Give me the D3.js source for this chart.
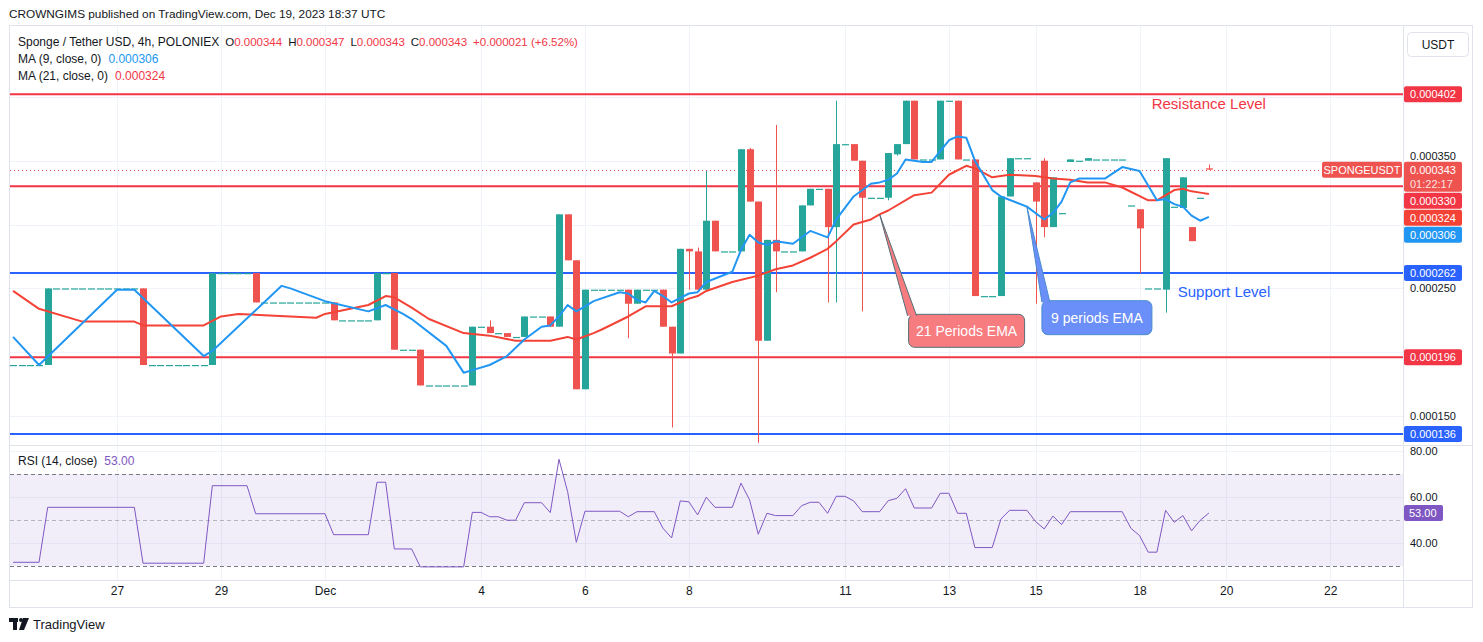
<!DOCTYPE html>
<html>
<head>
<meta charset="utf-8">
<script src="https://cdn.jsdelivr.net/npm/d3@7"></script>
<style>
  html, body { margin: 0; padding: 0; background: #ffffff; }
  svg { display: block; font-family: "Liberation Sans", Arial, sans-serif; }
</style>
</head>
<body>
<svg id="chart"></svg>
<script>
// prices in millionths of USDT (343 -> 0.000343), 4h bars
// bar index 0 = Dec 4 00:00, first visible bar is -54
const barStart = -54;

// [open, high, low, close]
const candles = [
  [190,190,190,190],[190,190,190,190],[190,190,190,190],[190,190,190,190], // -54..-51
  [190,250,190,250],                                                       // -50
  [250,250,250,250],[250,250,250,250],[250,250,250,250],[250,250,250,250],[250,250,250,250],
  [250,250,250,250],[250,250,250,250],[250,250,250,250],[250,250,250,250],[250,250,250,250], // -49..-40
  [250,250,190,190],                                                       // -39
  [190,190,190,190],[190,190,190,190],[190,190,190,190],[190,190,190,190],
  [190,190,190,190],[190,190,190,190],[190,190,190,190],                   // -38..-32
  [190,262,190,262],                                                       // -31
  [262,262,262,262],[262,262,262,262],[262,262,262,262],[262,262,262,262], // -30..-27
  [262,262,239,239],                                                       // -26
  [239,239,239,239],[239,239,239,239],[239,239,239,239],[239,239,239,239],
  [239,239,239,239],[239,239,239,239],[239,239,239,239],[239,239,239,239], // -25..-18
  [239,239,225,225],                                                       // -17
  [225,225,225,225],[225,225,225,225],[225,225,225,225],[225,225,225,225], // -16..-13
  [225,262,225,262],                                                       // -12
  [262,262,262,262],                                                       // -11
  [262,262,202,202],                                                       // -10
  [202,202,202,202],[202,202,202,202],                                     // -9,-8
  [202,202,174,174],                                                       // -7
  [174,174,174,174],[174,174,174,174],[174,174,174,174],[174,174,174,174],[174,174,174,174], // -6..-2
  [174,220,174,220],                                                       // -1
  [220,220,220,220],                                                       // 0
  [220,225,215,215],                                                       // 1
  [215,215,215,215],                                                       // 2
  [215,215,212,212],                                                       // 3
  [212,212,212,212],                                                       // 4
  [212,228,212,228],                                                       // 5
  [228,228,228,228],[228,228,228,228],                                     // 6,7
  [228,228,220,220],                                                       // 8
  [220,308,220,308],                                                       // 9
  [308,308,272,272],                                                       // 10
  [272,272,171,171],                                                       // 11
  [171,249,171,249],                                                       // 12
  [249,249,249,249],[249,249,249,249],[249,249,249,249],[249,249,249,249], // 13..16
  [249,249,211,238],                                                       // 17
  [238,249,238,249],                                                       // 18
  [249,249,249,249],[249,249,249,249],                                     // 19,20
  [249,249,220,220],                                                       // 21
  [220,220,141,199],                                                       // 22
  [199,281,199,281],                                                       // 23
  [281,281,249,279],                                                       // 24
  [279,282,249,249],                                                       // 25
  [249,342,249,303],                                                       // 26
  [303,303,279,279],                                                       // 27
  [279,279,279,279],[279,279,279,279],                                     // 28,29
  [279,359,279,359],                                                       // 30
  [359,360,318,318],                                                       // 31
  [318,318,129,209],                                                       // 32
  [209,288,209,288],                                                       // 33
  [288,378,247,279],                                                       // 34
  [279,279,279,279],[279,279,279,279],                                     // 35,36
  [279,315,279,315],                                                       // 37
  [315,328,315,328],                                                       // 38
  [328,328,328,328],                                                       // 39
  [328,328,239,298],                                                       // 40
  [298,397,239,363],                                                       // 41
  [363,363,363,363],                                                       // 42
  [363,363,350,350],                                                       // 43
  [350,350,232,321],                                                       // 44
  [321,321,321,321],[321,321,321,321],                                     // 45,46
  [321,356,319,356],                                                       // 47
  [355,363,354,363],                                                       // 48
  [363,397,363,397],                                                       // 49
  [397,397,351,351],                                                       // 50
  [351,351,351,351],[351,351,351,351],                                     // 51,52
  [351,397,351,397],                                                       // 53
  [397,397,397,397],                                                       // 54
  [397,397,351,351],                                                       // 55
  [351,351,351,351],                                                       // 56
  [351,351,244,244],                                                       // 57
  [244,244,244,244],[244,244,244,244],                                     // 58,59
  [244,322,244,322],                                                       // 60
  [322,352,322,352],                                                       // 61
  [352,352,352,352],[352,352,352,352],                                     // 62,63
  [333,333,238,318],                                                       // 64
  [350,352,290,298],                                                       // 65
  [298,337,298,337],                                                       // 66
  [309,309,309,309],                                                       // 67
  [349,351,349,351],                                                       // 68
  [350,350,350,350],                                                       // 69
  [350,352,350,352],                                                       // 70
  [351,351,351,351],[351,351,351,351],[351,351,351,351],[351,351,351,351], // 71..74
  [315,315,315,315],                                                       // 75
  [312,312,262,297],                                                       // 76
  [250,250,250,250],[250,250,250,250],                                     // 77,78
  [249,352,231,352],                                                       // 79
  [314,314,314,314],                                                       // 80
  [313,337,313,337],                                                       // 81
  [298,298,287,287],                                                       // 82
  [321,321,321,321],                                                       // 83
  [344,347,343,343]                                                        // 84
];

// moving averages: [bar, value]
const ma9 = [
  [-54,212],[-51,190],[-42,249],[-40,249],[-32,197],[-31,201],[-23,252],[-22,250],[-18,240],
  [-13,232],[-11,237],[-9,230],[-8,226],[-4,205],[-2,184],[-1,186],[1,190],[3,197],[5,210],
  [7,220],[8,221],[9,228],[10,237],[11,232],[12,236],[13,240],[16,247],[17,246],[18,241],
  [19,239],[20,248],[21,244],[22,239],[24,246],[25,247],[26,255],[29,263],[30,280],[31,292],
  [32,286],[33,284],[34,287],[35,286],[36,285],[38,295],[40,290],[41,304],[43,322],[45,332],
  [46,333],[47,335],[48,340],[49,351],[51,349],[52,349],[54,366],[55,369],[56,368],[57,350],
  [59,327],[60,322],[63,314],[65,304],[66,309],[67,318],[68,333],[69,336],[72,336],[74,345],
  [76,342],[78,319],[79,320],[80,316],[81,314],[82,307],[83,303],[84,306]
];
const ma21 = [
  [-54,248],[-51,234],[-46,224],[-40,224],[-39,221],[-32,221],[-30,228],[-28,230],[-25,229],
  [-22,228],[-19,227],[-18,230],[-13,237],[-11,244],[-10,243],[-8,235],[-6,226],[-2,215],
  [1,213],[4,209],[8,209],[10,212],[11,210],[13,215],[14,218],[17,228],[19,236],[22,236],
  [24,242],[25,244],[26,248],[29,255],[32,260],[34,265],[36,268],[38,274],[40,281],[41,287],
  [43,300],[45,304],[46,308],[47,311],[50,323],[52,325],[54,339],[56,346],[57,344],[59,337],
  [60,338],[61,339],[64,338],[66,336],[68,335],[70,333],[72,333],[74,329],[77,319],[78,319],
  [80,327],[81,328],[82,326],[83,325],[84,324]
];

// RSI(14): [bar, value]
const rsi = [
  [-54,31.6],[-51,31.6],[-50,55.5],[-40,55.5],[-39,31.2],[-32,31.2],[-31,64.9],[-27,64.9],
  [-26,52.7],[-18,52.7],[-17,43.6],[-13,43.6],[-12,66.4],[-11,66.4],[-10,37.4],[-8,37.4],
  [-7,29.6],[-2,29.6],[-1,53.3],[0,53.3],[1,51.4],[2,51.4],[3,49.9],[4,49.9],[5,57.5],
  [7,57.5],[8,53.2],[9,76.4],[10,62.3],[11,40.3],[12,53.8],[16,53.8],[17,51.4],[18,53.6],
  [20,53.6],[21,46.4],[22,42.2],[23,58.3],[24,57.9],[25,52.2],[26,59.9],[27,55.5],[29,55.5],
  [30,66],[31,58.7],[32,43.8],[33,52.9],[34,51.9],[36,51.9],[37,56.2],[38,57.7],[39,57.7],
  [40,52.9],[41,60.3],[42,60.3],[43,58.3],[44,53.6],[46,53.6],[47,58.4],[48,59.4],[49,63.6],
  [50,55.2],[52,55.2],[53,61.6],[54,61.6],[55,52.9],[56,52.9],[57,38],[59,38],[60,50.4],
  [61,54.2],[63,54.2],[64,49.3],[65,46.1],[66,51.7],[67,48],[68,53.6],[74,53.6],[75,46.4],
  [76,43.2],[77,36],[78,36],[79,54.2],[80,49],[81,51.9],[82,45.3],[83,49.9],[84,53]
];

const resistanceLevels = [402, 330, 196];
const supportLevels = [262, 136];
const priceTicks = [150, 200, 250, 300, 350, 400];
const rsiTicks = [40, 60, 80];
const rsiBands = [70, 50, 30];
const dateTicks = [
  ['27', -42], ['29', -30], ['Dec', -18], ['4', 0], ['6', 12], ['8', 24],
  ['11', 42], ['13', 54], ['15', 64], ['18', 76], ['20', 86], ['22', 98]
];
const lastChange = { abs: 21, pct: 6.52 };
const countdown = '01:22:17';

const callouts = [
  { text: '21 Periods EMA', k: 46, series: ma21 },
  { text: '9 periods EMA', k: 63, series: ma9 }
];

// ---------------------------------------------------------------
const W = 1483, H = 642;
const left = 10, right = 1403;
const mainTop = 26, mainBottom = 445, rsiBottom = 580;
const UP = '#26a69a', DOWN = '#ef5350';
const RED = '#f23645', BLUE = '#2962ff';
const MA9C = '#2196f3', MA21C = '#f44336', RSIC = '#7e57c2';
const TXT = '#131722', GRID = '#f0f3fa', BORDER = '#e0e3eb';

const fmt = v => (v / 1e6).toFixed(6);

const bars = candles.map((c, i) => ({ k: barStart + i, o: c[0], h: c[1], l: c[2], c: c[3] }));

const svg = d3.select('#chart').attr('width', W).attr('height', H);

const x = d3.scaleLinear().domain([-54.35, 106.4]).range([left, right]);
const y = d3.scaleLinear().domain([127.35, 455.5]).range([mainBottom, mainTop]);
const ry = d3.scaleLinear().domain([23.9, 82.6]).range([rsiBottom, mainBottom]);

svg.append('defs').append('clipPath').attr('id', 'mainClip')
  .append('rect').attr('x', left).attr('y', mainTop).attr('width', right - left).attr('height', mainBottom - mainTop);
svg.select('defs').append('clipPath').attr('id', 'rsiClip')
  .append('rect').attr('x', left).attr('y', mainBottom).attr('width', right - left).attr('height', rsiBottom - mainBottom);

// header
svg.append('text').attr('x', 9).attr('y', 18).attr('font-size', 11.8).attr('fill', TXT)
  .text('CROWNGIMS published on TradingView.com, Dec 19, 2023 18:37 UTC');

// grid
const grid = svg.append('g');
grid.selectAll('line.v').data(dateTicks).join('line')
  .attr('x1', d => Math.round(x(d[1])) + 0.5).attr('x2', d => Math.round(x(d[1])) + 0.5)
  .attr('y1', mainTop).attr('y2', rsiBottom).attr('stroke', GRID);
grid.selectAll('line.h').data(priceTicks).join('line')
  .attr('x1', left).attr('x2', right)
  .attr('y1', d => Math.round(y(d)) + 0.5).attr('y2', d => Math.round(y(d)) + 0.5).attr('stroke', GRID);
grid.selectAll('line.r').data(rsiTicks).join('line')
  .attr('x1', left).attr('x2', right)
  .attr('y1', d => Math.round(ry(d)) + 0.5).attr('y2', d => Math.round(ry(d)) + 0.5).attr('stroke', GRID);

// frame
svg.append('rect').attr('x', 9.5).attr('y', 25.5).attr('width', 1463).attr('height', 582)
  .attr('fill', 'none').attr('stroke', BORDER);
svg.append('line').attr('x1', right + 0.5).attr('x2', right + 0.5).attr('y1', 26).attr('y2', 607).attr('stroke', BORDER);
svg.append('line').attr('x1', 10).attr('x2', 1472).attr('y1', mainBottom + 0.5).attr('y2', mainBottom + 0.5).attr('stroke', BORDER);
svg.append('line').attr('x1', 10).attr('x2', 1472).attr('y1', rsiBottom + 0.5).attr('y2', rsiBottom + 0.5).attr('stroke', BORDER);

// main pane
const main = svg.append('g').attr('clip-path', 'url(#mainClip)');

main.selectAll('line.res').data(resistanceLevels).join('line')
  .attr('x1', left).attr('x2', right).attr('y1', d => y(d)).attr('y2', d => y(d))
  .attr('stroke', RED).attr('stroke-width', 2);
main.selectAll('line.sup').data(supportLevels).join('line')
  .attr('x1', left).attr('x2', right).attr('y1', d => y(d)).attr('y2', d => y(d))
  .attr('stroke', BLUE).attr('stroke-width', 2);

const last = bars[bars.length - 1];
main.append('line')
  .attr('x1', left).attr('x2', 1322)
  .attr('y1', Math.round(y(last.c)) + 0.5).attr('y2', Math.round(y(last.c)) + 0.5)
  .attr('stroke', DOWN).attr('stroke-dasharray', '1,3');

const col = d => (d.c < d.o ? DOWN : UP);
const bw = 7;

main.selectAll('line.wick').data(bars.filter(d => d.h > d.l)).join('line')
  .attr('x1', d => Math.round(x(d.k)) + 0.5).attr('x2', d => Math.round(x(d.k)) + 0.5)
  .attr('y1', d => y(d.h)).attr('y2', d => y(d.l))
  .attr('stroke', col).attr('stroke-width', 1);

main.selectAll('rect.body').data(bars).join('rect')
  .attr('x', d => Math.round(x(d.k)) + 0.5 - bw / 2)
  .attr('width', bw)
  .attr('y', d => y(Math.max(d.o, d.c)))
  .attr('height', d => Math.max(1.2, y(Math.min(d.o, d.c)) - y(Math.max(d.o, d.c))))
  .attr('fill', col);

const line = d3.line().x(d => x(d[0])).y(d => y(d[1]));
main.append('path').datum(ma21).attr('d', line).attr('fill', 'none')
  .attr('stroke', MA21C).attr('stroke-width', 2).attr('stroke-linejoin', 'round');
main.append('path').datum(ma9).attr('d', line).attr('fill', 'none')
  .attr('stroke', MA9C).attr('stroke-width', 2).attr('stroke-linejoin', 'round');

// text annotations
main.append('text').attr('x', x(77.4)).attr('y', y(resistanceLevels[0]) + 15)
  .attr('font-size', 15).attr('fill', RED).text('Resistance Level');
main.append('text').attr('x', x(80.4)).attr('y', y(supportLevels[0]) + 24)
  .attr('font-size', 15).attr('fill', BLUE).text('Support Level');

// callouts
const calloutStyle = [
  { box: [29, 100, 116, 33], base: [28, 37], fill: '#f77c80', stroke: '#55707a' },
  { box: [15, 94, 110, 34], base: [15, 23], fill: '#6b8ff8', stroke: '#4a8bd0' }
];
callouts.forEach((c, i) => {
  const s = calloutStyle[i];
  const tx = x(c.k), ty = y(c.series.find(p => p[0] === c.k)[1]);
  const [bx, by, bwid, bh] = s.box;
  const g = main.append('g');
  g.append('rect').attr('x', tx + bx).attr('y', ty + by).attr('width', bwid).attr('height', bh)
    .attr('rx', 6).attr('fill', s.fill).attr('stroke', s.stroke);
  g.append('path')
    .attr('d', `M${tx + s.base[0]},${ty + by + 1.5}L${tx},${ty}L${tx + s.base[1]},${ty + by + 1.5}`)
    .attr('fill', s.fill).attr('stroke', s.stroke);
  g.append('text').attr('x', tx + bx + bwid / 2).attr('y', ty + by + bh / 2 + 5)
    .attr('text-anchor', 'middle').attr('font-size', 14).attr('fill', '#ffffff').text(c.text);
});

// price tags, stacked like the platform does
const tags = [
  ...resistanceLevels.map(v => ({ v, color: RED })),
  ...supportLevels.map(v => ({ v, color: BLUE })),
  { v: last.c, color: DOWN, extra: countdown },
  { v: ma21[ma21.length - 1][1], color: MA21C },
  { v: ma9[ma9.length - 1][1], color: MA9C }
].sort((a, b) => b.v - a.v);
let prevBottom = -Infinity;
tags.forEach(t => {
  t.h = t.extra ? 30 : 16;
  t.top = Math.max(y(t.v) - 8, prevBottom + 1);
  prevBottom = t.top + t.h;
});

// price axis: tick labels that sit under a tag are covered on the platform, skip them;
// a label just above a tag is lifted so it clears the tag
const visibleTicks = priceTicks.filter(v => !tags.some(t => y(v) > t.top && y(v) < t.top + t.h));
const pAxis = svg.append('g').attr('transform', `translate(${right},0)`)
  .call(d3.axisRight(y).tickValues(visibleTicks).tickSize(0).tickPadding(7).tickFormat(fmt));
pAxis.select('.domain').remove();
pAxis.selectAll('text').attr('font-size', 11).attr('fill', TXT).attr('font-family', null)
  .attr('y', v => {
    const near = tags.find(t => t.top - y(v) >= 0 && t.top - y(v) < 7);
    return near ? near.top - 6 - y(v) : 0;
  });

const tagG = svg.append('g');
tags.forEach(t => {
  tagG.append('rect').attr('x', right + 1).attr('y', t.top).attr('width', 58).attr('height', t.h)
    .attr('rx', 2).attr('fill', t.color);
  tagG.append('text').attr('x', right + 7).attr('y', t.top + 12).attr('font-size', 11)
    .attr('fill', '#ffffff').text(fmt(t.v));
  if (t.extra) {
    tagG.append('text').attr('x', right + 7).attr('y', t.top + 26).attr('font-size', 11)
      .attr('fill', '#ffffff').attr('fill-opacity', 0.85).text(t.extra);
  }
});
// symbol tag
tagG.append('rect').attr('x', 1322).attr('y', y(last.c) - 8).attr('width', 80).attr('height', 16)
  .attr('rx', 2).attr('fill', DOWN);
tagG.append('text').attr('x', 1362).attr('y', y(last.c) + 4).attr('text-anchor', 'middle')
  .attr('font-size', 11).attr('fill', '#ffffff').text('SPONGEUSDT');

// currency button
svg.append('rect').attr('x', 1407.5).attr('y', 32.5).attr('width', 61).attr('height', 24).attr('rx', 4)
  .attr('fill', '#ffffff').attr('stroke', BORDER);
svg.append('text').attr('x', 1438).attr('y', 49).attr('text-anchor', 'middle')
  .attr('font-size', 12).attr('fill', TXT).text('USDT');

// legend
const leg = svg.append('g').attr('font-size', 12).attr('fill', TXT);
const l1 = leg.append('text').attr('x', 18).attr('y', 46);
l1.append('tspan').text('Sponge / Tether USD, 4h, POLONIEX');
[['O', last.o], ['H', last.h], ['L', last.l], ['C', last.c]].forEach((p, i) => {
  l1.append('tspan').attr('dx', 6).attr('font-size', 11.5).text(p[0]);
  l1.append('tspan').attr('fill', RED).attr('font-size', 11.5).text(fmt(p[1]));
});
l1.append('tspan').attr('dx', 6).attr('fill', RED).attr('font-size', 11.5)
  .text(`+${fmt(lastChange.abs)} (+${lastChange.pct.toFixed(2)}%)`);

const l2 = leg.append('text').attr('x', 18).attr('y', 63);
l2.append('tspan').text('MA (9, close, 0)');
l2.append('tspan').attr('dx', 7).attr('fill', MA9C).text(fmt(ma9[ma9.length - 1][1]));
const l3 = leg.append('text').attr('x', 18).attr('y', 80);
l3.append('tspan').text('MA (21, close, 0)');
l3.append('tspan').attr('dx', 7).attr('fill', RED).text(fmt(ma21[ma21.length - 1][1]));

// RSI pane
const rp = svg.append('g').attr('clip-path', 'url(#rsiClip)');
rp.append('rect').attr('x', left).attr('width', right - left)
  .attr('y', ry(rsiBands[0])).attr('height', ry(rsiBands[2]) - ry(rsiBands[0]))
  .attr('fill', RSIC).attr('fill-opacity', 0.1);
rp.selectAll('line.band').data(rsiBands).join('line')
  .attr('x1', left).attr('x2', right)
  .attr('y1', d => Math.round(ry(d)) + 0.5).attr('y2', d => Math.round(ry(d)) + 0.5)
  .attr('stroke', '#787b86').attr('stroke-opacity', (d, i) => (i === 1 ? 0.5 : 1))
  .attr('stroke-dasharray', '4,3');
rp.append('path').datum(rsi)
  .attr('d', d3.line().x(d => x(d[0])).y(d => ry(d[1])))
  .attr('fill', 'none').attr('stroke', RSIC).attr('stroke-width', 1);

const rAxis = svg.append('g').attr('transform', `translate(${right},0)`)
  .call(d3.axisRight(ry).tickValues(rsiTicks).tickSize(0).tickPadding(7).tickFormat(d3.format('.2f')));
rAxis.select('.domain').remove();
rAxis.selectAll('text').attr('font-size', 11).attr('fill', TXT).attr('font-family', null);

const rsiLast = rsi[rsi.length - 1][1];
svg.append('rect').attr('x', right + 1).attr('y', ry(rsiLast) - 8).attr('width', 39).attr('height', 16)
  .attr('rx', 2).attr('fill', RSIC);
svg.append('text').attr('x', right + 6).attr('y', ry(rsiLast) + 4).attr('font-size', 11)
  .attr('fill', '#ffffff').text(rsiLast.toFixed(2));

const rl = svg.append('text').attr('x', 18).attr('y', 465).attr('font-size', 12).attr('fill', TXT);
rl.append('tspan').text('RSI (14, close)');
rl.append('tspan').attr('dx', 7).attr('fill', RSIC).text(rsiLast.toFixed(2));

// time axis
const tAxis = svg.append('g').attr('transform', `translate(0,${rsiBottom})`)
  .call(d3.axisBottom(x).tickValues(dateTicks.map(d => d[1])).tickSize(0).tickPadding(6)
    .tickFormat(v => dateTicks.find(d => d[1] === v)[0]));
tAxis.select('.domain').remove();
tAxis.selectAll('text').attr('font-size', 12).attr('fill', TXT).attr('font-family', null);

// footer logo
const logo = svg.append('g').attr('fill', TXT);
logo.append('rect').attr('x', 9).attr('y', 618).attr('width', 9).attr('height', 4);
logo.append('rect').attr('x', 13).attr('y', 618).attr('width', 4).attr('height', 12);
logo.append('circle').attr('cx', 21).attr('cy', 620).attr('r', 2);
logo.append('path').attr('d', 'M23,618L29,618L24,630L19,630Z');
svg.append('text').attr('x', 33).attr('y', 629).attr('font-size', 13).attr('fill', TXT).text('TradingView');
</script>
</body>
</html>
